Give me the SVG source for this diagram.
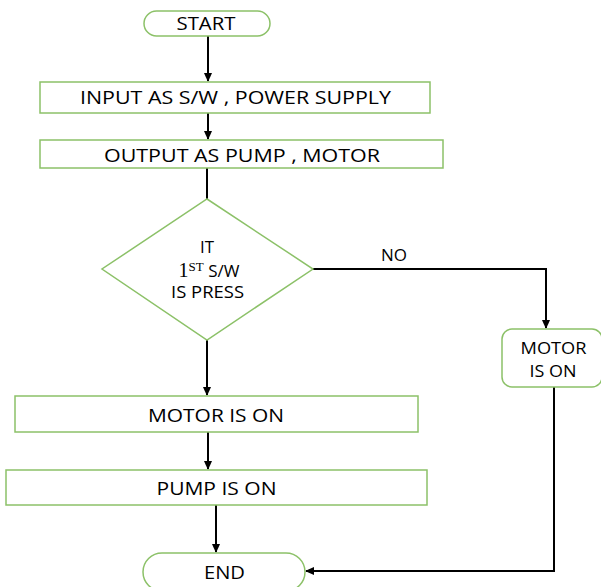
<svg xmlns="http://www.w3.org/2000/svg" width="601" height="587" viewBox="0 0 601 587">
<style>
.n{fill:#fff;stroke:#8cc168;stroke-width:1.5}
.t{font-family:"Open Sans","Liberation Sans",sans-serif;font-size:18px;fill:#000;text-anchor:middle}
.s{font-size:17px}
.c{fill:none;stroke:#000;stroke-width:2}
</style>
<defs>
<marker id="a" markerWidth="10" markerHeight="10" refX="8" refY="5" orient="auto" markerUnits="userSpaceOnUse">
<path d="M0,1 L9,5 L0,9 Z" fill="#000"/>
</marker>
</defs>
<rect width="601" height="587" fill="#fff"/>
<g id="connectors">
<path class="c" d="M208,36 V81" marker-end="url(#a)"/>
<path class="c" d="M208,113 V139" marker-end="url(#a)"/>
<path class="c" d="M207,168 V199"/>
<path class="c" d="M313,269 H546 V328" marker-end="url(#a)"/>
<path class="c" d="M207,340 V395" marker-end="url(#a)"/>
<path class="c" d="M208,432 V469" marker-end="url(#a)"/>
<path class="c" d="M216,505 V552" marker-end="url(#a)"/>
<path class="c" d="M554,387 V571 H306" marker-end="url(#a)"/>
</g>
<g id="start">
<rect class="n" x="144" y="11" width="126" height="25" rx="12.5"/>
<text class="t" x="206" y="30" textLength="59" lengthAdjust="spacingAndGlyphs">START</text>
</g>
<g id="input">
<rect class="n" x="40" y="82" width="390" height="31"/>
<text class="t" x="235.5" y="104" textLength="311" lengthAdjust="spacingAndGlyphs">INPUT AS S/W , POWER SUPPLY</text>
</g>
<g id="output">
<rect class="n" x="40" y="140" width="403" height="28"/>
<text class="t" x="242" y="161.5" textLength="276" lengthAdjust="spacingAndGlyphs">OUTPUT AS PUMP , MOTOR</text>
</g>
<g id="decision">
<polygon class="n" points="207,199 313,269 207,340 102,269"/>
<text class="t s" x="207" y="253" textLength="14" lengthAdjust="spacingAndGlyphs">IT</text>
<text class="t s" x="209" y="277"><tspan style="font-family:'Liberation Serif',serif;font-size:20px">1</tspan><tspan dy="-6" style="font-family:'Liberation Serif',serif;font-size:13px">ST</tspan><tspan dy="6"> S/W</tspan></text>
<text class="t s" x="207.5" y="298" textLength="73" lengthAdjust="spacingAndGlyphs">IS PRESS</text>
</g>
<g id="no-label">
<text class="t s" x="394" y="261" textLength="26" lengthAdjust="spacingAndGlyphs">NO</text>
</g>
<g id="motor-right">
<rect class="n" x="502" y="329" width="100" height="58" rx="10"/>
<text class="t s" x="553.5" y="354" textLength="66" lengthAdjust="spacingAndGlyphs">MOTOR</text>
<text class="t s" x="553" y="377" textLength="47" lengthAdjust="spacingAndGlyphs">IS ON</text>
</g>
<g id="motor">
<rect class="n" x="15" y="396" width="403" height="36"/>
<text class="t" x="216" y="421.5" textLength="136" lengthAdjust="spacingAndGlyphs">MOTOR IS ON</text>
</g>
<g id="pump">
<rect class="n" x="6" y="470" width="421" height="35"/>
<text class="t" x="216.5" y="495" textLength="120" lengthAdjust="spacingAndGlyphs">PUMP IS ON</text>
</g>
<g id="end">
<rect class="n" x="143" y="553" width="162" height="38" rx="19"/>
<text class="t" x="224.5" y="579" textLength="41" lengthAdjust="spacingAndGlyphs">END</text>
</g>
</svg>
